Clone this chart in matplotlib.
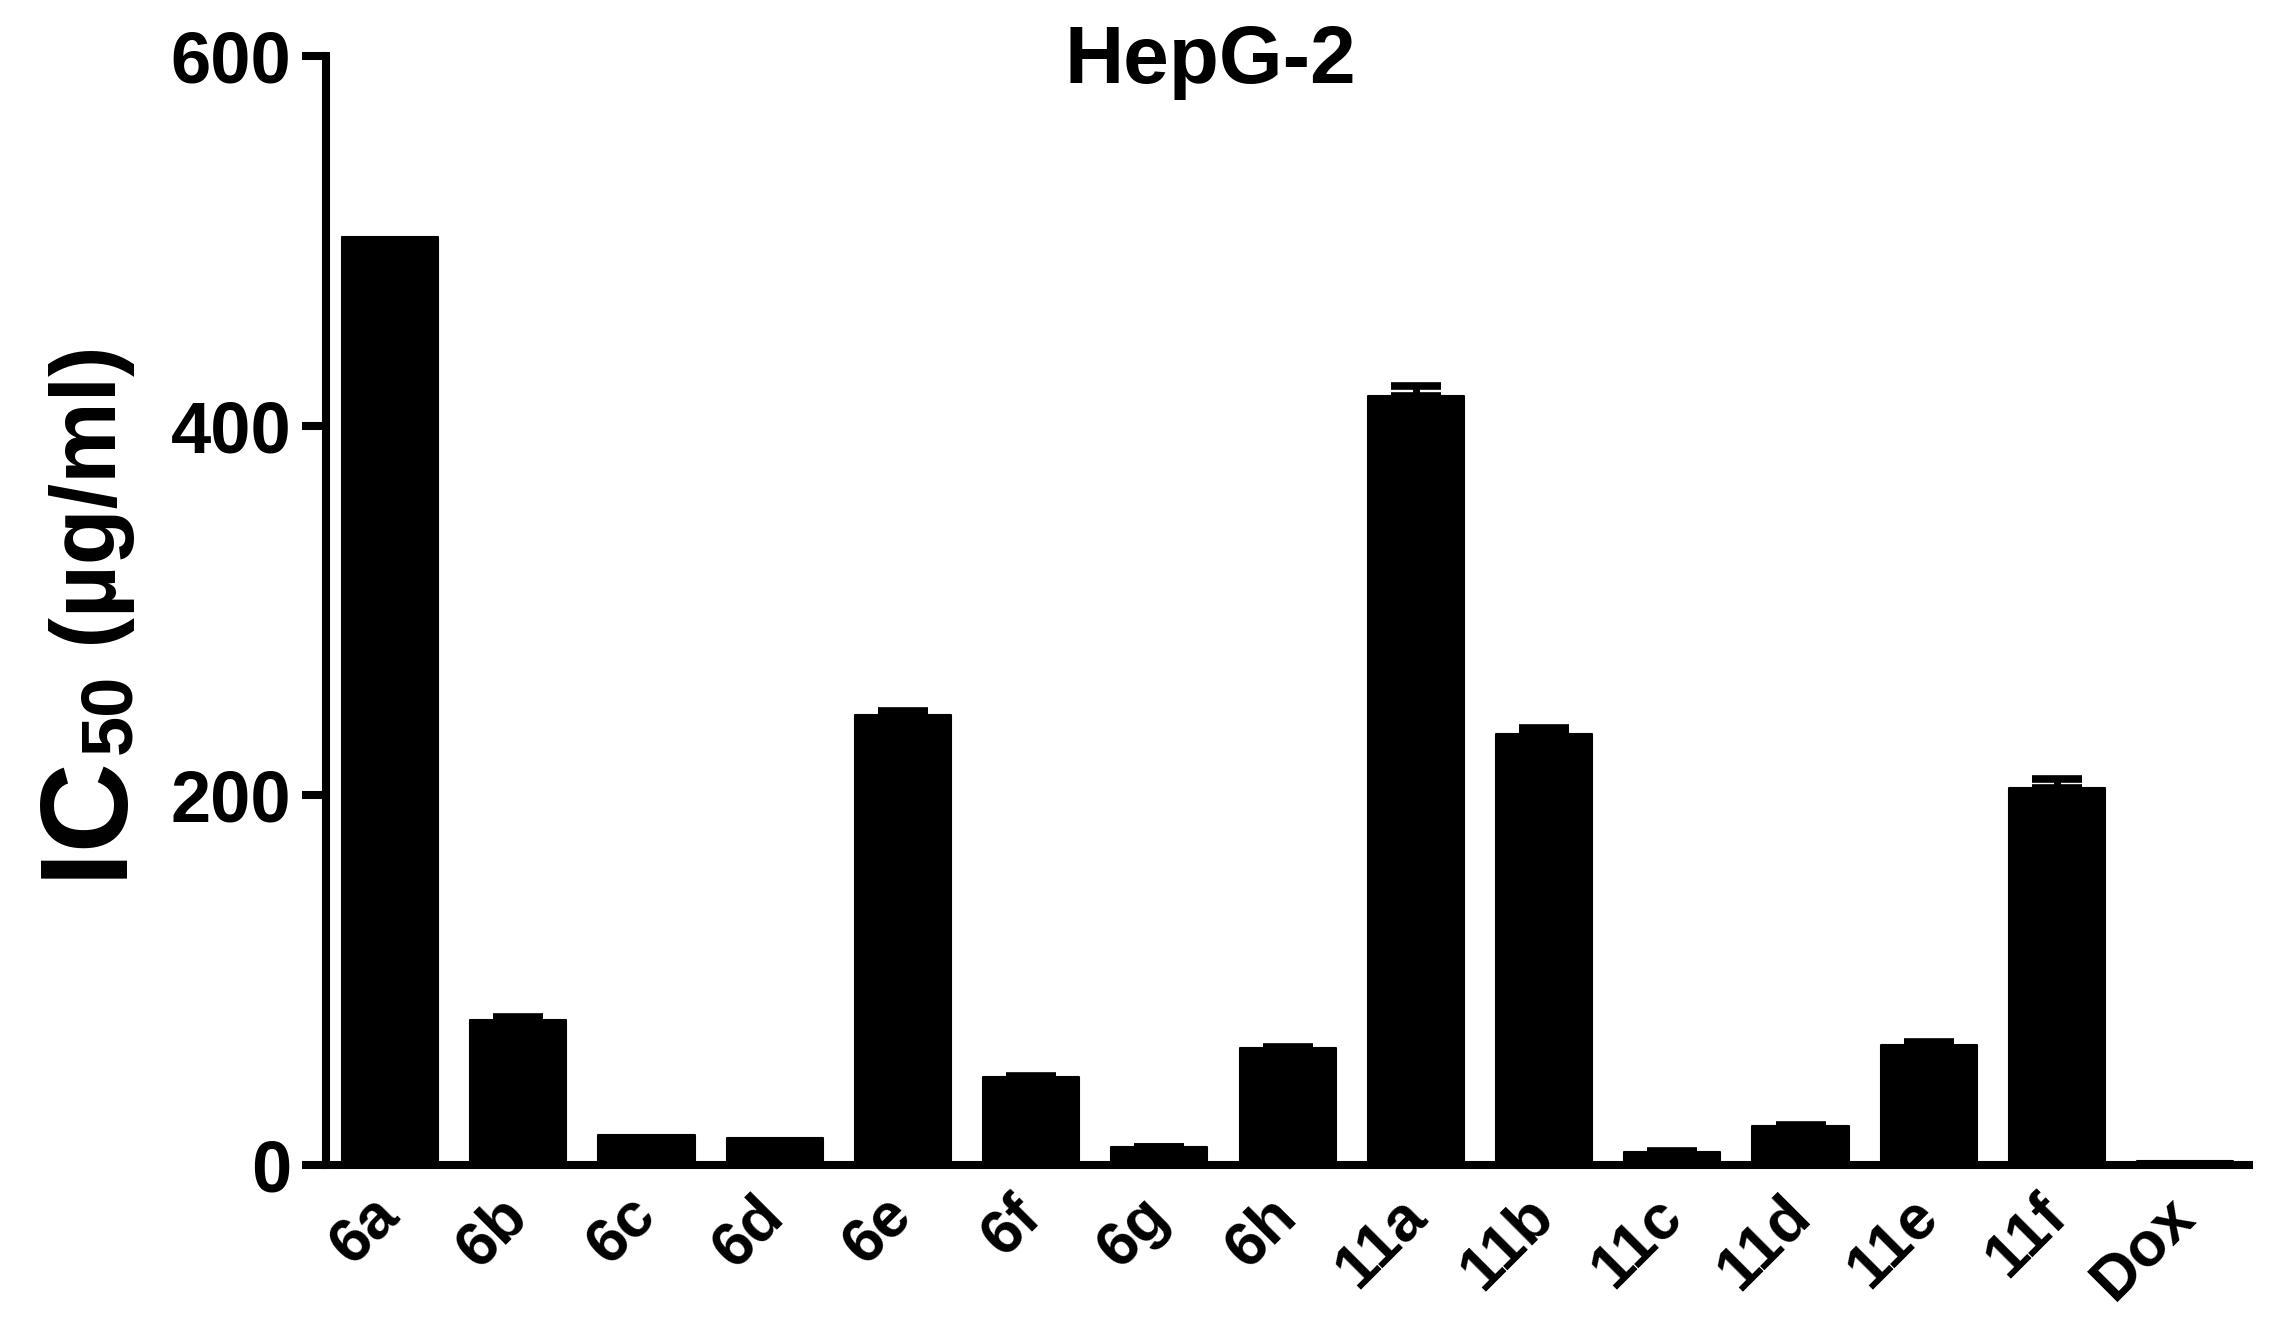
import numpy as np
import matplotlib
matplotlib.use('Agg')
import matplotlib.pyplot as plt

# HepG-2 IC50 values
compounds = ['6a', '6b', '6c', '6d', '6e', '6f', '6g', '6h',
             '11a', '11b', '11c', '11d', '11e', '11f', 'Dox']
ic50 = [502, 78.5, 16, 14.5, 243.5, 47.5, 9.5, 63,
        416, 233, 7, 21, 65, 204, 2]
sem = [0, 1.2, 0, 0, 2.0, 0.6, 0.3, 0.6,
       5.2, 3.1, 0.3, 0.4, 1.2, 4.7, 0]
yticks = [0, 200, 400, 600]

plt.rcParams['font.family'] = ['Liberation Sans', 'DejaVu Sans']
plt.rcParams['font.weight'] = 'bold'

fig = plt.figure(figsize=(22.79, 13.35), dpi=100)
ax = fig.add_axes([0.143, 0.1276, 0.844, 0.8304])

x = np.arange(len(compounds))
vals = np.array(ic50, dtype=float)
err = np.array(sem, dtype=float)

bars = ax.bar(x, vals, width=0.75, color='black', edgecolor='black', linewidth=1.5)
for b in bars:
    b.set_joinstyle('round')

# only the upper half of the error bar shows above the black bars
m = err > 0
ax.errorbar(x[m], vals[m], yerr=[np.zeros(m.sum()), err[m]], fmt='none',
            ecolor='black', elinewidth=5, capsize=18, capthick=5.5)

ax.set_xlim(-0.5, 14.5)
ax.set_ylim(0, 600)
ax.set_yticks(yticks)
ax.set_yticklabels([str(t) for t in yticks], fontsize=52, fontweight='bold')
ax.set_xticks(x)
ax.set_xticklabels(compounds, fontsize=45, fontweight='bold', rotation=45,
                   ha='right', va='center', rotation_mode='anchor')
ax.tick_params(axis='x', length=0, pad=30)
ax.tick_params(axis='y', length=17, width=5.8, pad=8)

for s in ['top', 'right']:
    ax.spines[s].set_visible(False)
for s in ['left', 'bottom']:
    ax.spines[s].set_linewidth(5.8)
    ax.spines[s].set_capstyle('projecting')

ax.text(0.46, 0.976, 'HepG-2', transform=ax.transAxes, ha='center',
        va='baseline', fontsize=59, fontweight='bold')

# y label built from pieces: big IC, subscript 50, then the unit
t1 = fig.text(0.013, 0.342, 'IC', rotation=90, ha='left', va='bottom',
              fontsize=90, fontweight='bold')
t2 = ax.annotate('50', xy=(1.0, 1.0), xycoords=t1, rotation=90,
                 ha='right', va='bottom', fontsize=52, fontweight='bold',
                 annotation_clip=False)
t3 = ax.annotate(' (µg/ml)', xy=(0.5, 1.0), xycoords=t2, xytext=(-14, 0),
                 textcoords='offset points', rotation=90, ha='center',
                 va='bottom', fontsize=66, fontweight='bold',
                 annotation_clip=False)

fig.savefig('out.png', dpi=100)
